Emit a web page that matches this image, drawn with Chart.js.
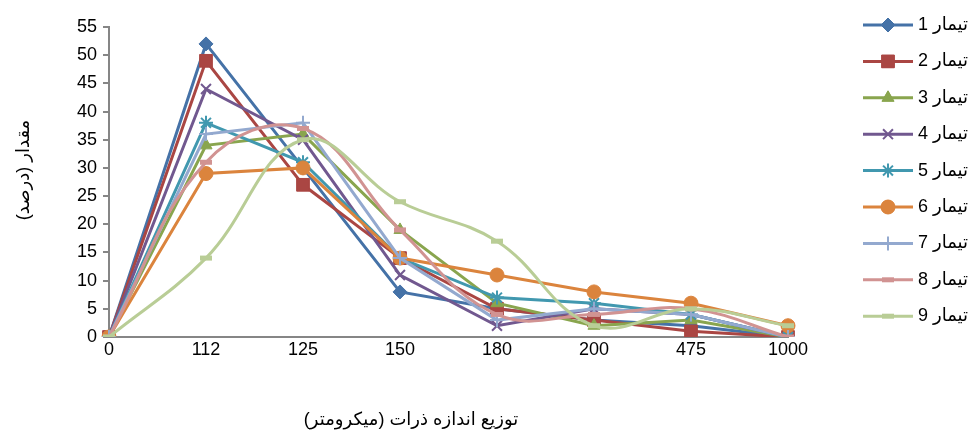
<!DOCTYPE html>
<html>
<head>
<meta charset="utf-8">
<script src="https://cdn.jsdelivr.net/npm/chart.js@4.4.1/dist/chart.umd.min.js"></script>
<style>
  html, body { margin: 0; padding: 0; background: #fff; }
  #wrap { width: 970px; height: 436px; }
</style>
</head>
<body>
<div id="wrap"><canvas id="sizeChart" width="970" height="436"></canvas></div>
<script>
// particle size classes (micrometre)
const categories = ['0', '112', '125', '150', '180', '200', '475', '1000'];

// share (%) per treatment
const t1 = [0, 52, 30, 8, 5, 3, 2, 0];
const t2 = [0, 49, 27, 14, 5, 3, 1, 0];
const t3 = [0, 34, 36, 19, 6, 2, 3, 0];
const t4 = [0, 44, 35, 11, 2, 5, 4, 0];
const t5 = [0, 38, 31, 14, 7, 6, 4, 0];
const t6 = [0, 29, 30, 14, 11, 8, 6, 2];
const t7 = [0, 36, 38, 14, 3, 5, 4, 0];
const t8 = [0, 31, 37, 19, 4, 4, 5, 0];
const t9 = [0, 14, 35, 24, 17, 2, 5, 2];

const seriesNames = ['تیمار 1', 'تیمار 2', 'تیمار 3', 'تیمار 4', 'تیمار 5', 'تیمار 6', 'تیمار 7', 'تیمار 8', 'تیمار 9'];
const yTicks = [0, 5, 10, 15, 20, 25, 30, 35, 40, 45, 50, 55];

const xTitle = 'توزیع اندازه ذرات (میکرومتر)';
const yTitle = 'مقدار (درصد)';

const colors = ['#4572A7', '#AA4643', '#89A54E', '#71588F', '#4198AF', '#DB843D', '#93A9CF', '#D19392', '#B9CD96'];
const markers = [
    { style: 'rectRot', r: 7, bw: 1, fill: true },
    { style: 'rect', r: 9, bw: 1, fill: true },
    { style: 'triangle', r: 7, bw: 1, fill: true },
    { style: 'crossRot', r: 7, bw: 2, fill: false },
    { style: 'star', r: 7, bw: 2, fill: false },
    { style: 'circle', r: 7, bw: 1, fill: true },
    { style: 'cross', r: 7, bw: 2, fill: false },
    { style: 'line', r: 6, bw: 5, fill: false },
    { style: 'line', r: 6, bw: 5, fill: false }
];
const smooth = [false, false, false, false, false, false, false, true, true];
const allData = [t1, t2, t3, t4, t5, t6, t7, t8, t9];

const font = '"Liberation Sans", "DejaVu Sans", sans-serif';

const datasets = allData.map((d, i) => ({
    label: seriesNames[i],
    data: d,
    borderColor: colors[i],
    backgroundColor: colors[i],
    pointBackgroundColor: colors[i],
    pointBorderColor: colors[i],
    pointStyle: markers[i].style,
    pointRadius: markers[i].r,
    pointBorderWidth: markers[i].bw,
    borderWidth: 3,
    tension: smooth[i] ? 0.4 : 0,
    fill: false,
    order: 9 - i
}));

// titles and a legend with line + marker samples
const extras = {
    id: 'extras',
    afterDraw(chart) {
        const ctx = chart.ctx;
        ctx.save();
        ctx.fillStyle = '#000';
        ctx.font = '18px ' + font;
        ctx.textAlign = 'center';
        ctx.textBaseline = 'middle';
        ctx.direction = 'rtl';
        ctx.fillText(xTitle, 411, 420);

        ctx.save();
        ctx.translate(24, 170);
        ctx.rotate(-Math.PI / 2);
        ctx.fillText(yTitle, 0, 0);
        ctx.restore();

        seriesNames.forEach((name, i) => {
            const y = 25 + i * 36.4;
            ctx.strokeStyle = colors[i];
            ctx.fillStyle = colors[i];
            ctx.lineWidth = 3;
            ctx.beginPath();
            ctx.moveTo(863, y);
            ctx.lineTo(913, y);
            ctx.stroke();
            ctx.lineWidth = markers[i].bw;
            Chart.helpers.drawPoint(ctx, {
                pointStyle: markers[i].style,
                radius: markers[i].r,
                rotation: 0,
                borderWidth: markers[i].bw
            }, 888, y);
            if (markers[i].fill) ctx.fill();
            ctx.fillStyle = '#000';
            ctx.font = '18px ' + font;
            ctx.textAlign = 'right';
            ctx.direction = 'rtl';
            ctx.fillText(name, 968, y);
        });
        ctx.restore();
    }
};

new Chart(document.getElementById('sizeChart'), {
    type: 'line',
    data: { labels: categories, datasets: datasets },
    options: {
        responsive: false,
        animation: false,
        layout: { padding: { top: 27, right: 182, left: 0, bottom: 0 } },
        plugins: {
            legend: { display: false },
            tooltip: { enabled: false }
        },
        scales: {
            x: {
                offset: false,
                grid: { display: false },
                border: { display: true, color: '#868686', width: 2 },
                ticks: { color: '#000', font: { family: font, size: 18 }, padding: -6, maxRotation: 0 },
                afterFit(scale) { scale.height = 99; }
            },
            y: {
                min: 0,
                max: 55,
                afterBuildTicks(scale) { scale.ticks = yTicks.map(v => ({ value: v })); },
                grid: { drawOnChartArea: false, drawTicks: true, tickLength: 6, color: '#868686', lineWidth: 2 },
                border: { display: true, color: '#868686', width: 2 },
                ticks: { color: '#000', font: { family: font, size: 18 }, padding: 6 },
                afterFit(scale) { scale.width = 109; }
            }
        }
    },
    plugins: [extras]
});
</script>
</body>
</html>
